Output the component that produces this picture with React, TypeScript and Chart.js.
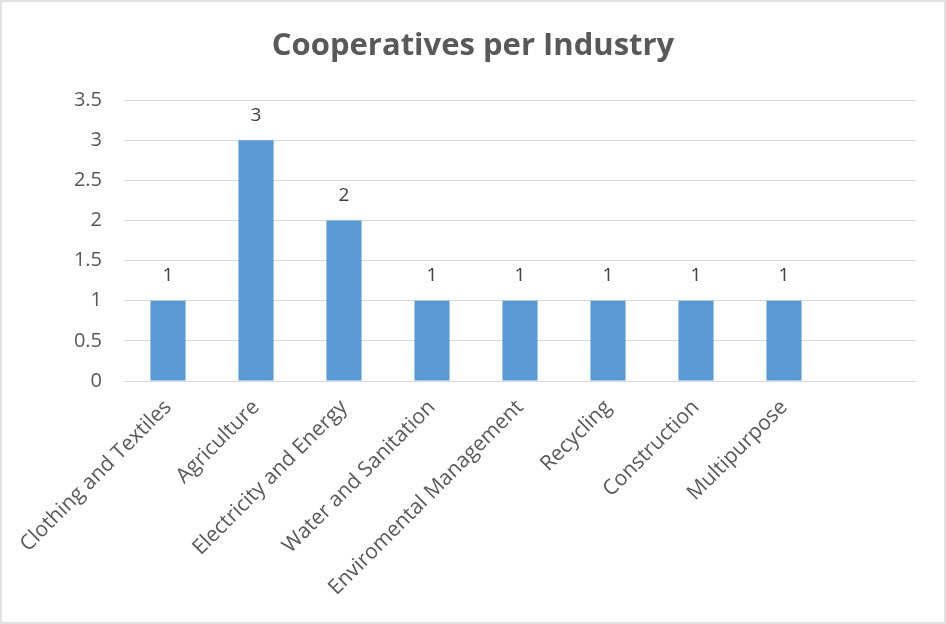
import React, { useEffect, useRef } from "react";
import { Chart, registerables } from "chart.js";

Chart.register(...registerables);

const categories: string[] = [
  "Clothing and Textiles",
  "Agriculture",
  "Electricity and Energy",
  "Water and Sanitation",
  "Enviromental Management",
  "Recycling",
  "Construction",
  "Multipurpose",
  "",
];
const cooperatives: (number | null)[] = [1, 3, 2, 1, 1, 1, 1, 1, null];
const chartTitle = "Cooperatives per Industry";

const FONT = "'Open Sans', Lato, sans-serif";
const W = 946;
const H = 624;

const frame = {
  id: "frame",
  beforeDraw(chart: any) {
    const ctx = chart.ctx;
    ctx.save();
    ctx.fillStyle = "#ffffff";
    ctx.fillRect(0, 0, W, H);
    ctx.strokeStyle = "#d9d9d9";
    ctx.lineWidth = 1.5;
    ctx.strokeRect(1, 1, W - 2, H - 2);
    ctx.restore();
  },
};

const valueLabels = {
  id: "valueLabels",
  afterDatasetsDraw(chart: any) {
    const ctx = chart.ctx;
    const meta = chart.getDatasetMeta(0);
    const data = chart.data.datasets[0].data;
    ctx.save();
    ctx.font = `19px ${FONT}`;
    ctx.fillStyle = "#404040";
    ctx.textAlign = "center";
    ctx.textBaseline = "middle";
    meta.data.forEach((bar: any, i: number) => {
      const v = data[i];
      if (v === null || v === undefined) return;
      ctx.fillText(String(v), bar.x, bar.y - 25);
    });
    ctx.restore();
  },
};

export default function App() {
  const ref = useRef<HTMLCanvasElement>(null);
  useEffect(() => {
    document.body.style.margin = "0";
    const chart = new Chart(ref.current as HTMLCanvasElement, {
      type: "bar",
      data: {
        labels: categories,
        datasets: [
          {
            data: cooperatives,
            backgroundColor: "#5b9bd5",
            borderWidth: 0,
            categoryPercentage: 1,
            barPercentage: 0.4,
          },
        ],
      },
      options: {
        animation: false,
        responsive: false,
        devicePixelRatio: 1,
        layout: { padding: 0 },
        plugins: {
          legend: { display: false },
          tooltip: { enabled: false },
          title: {
            display: true,
            text: chartTitle,
            color: "#595959",
            font: { family: FONT, size: 31, weight: "bold", lineHeight: 1.2 },
            padding: { top: 28, bottom: 35 },
          },
        },
        scales: {
          x: {
            grid: { display: false, drawTicks: false },
            border: { display: true, color: "#d9d9d9", width: 1 },
            ticks: {
              color: "#595959",
              font: { family: FONT, size: 21 },
              minRotation: 45,
              maxRotation: 45,
              autoSkip: false,
              padding: 14,
            },
            afterFit(scale: any) {
              scale.height = H - 381;
            },
          },
          y: {
            min: 0,
            max: 3.5,
            grid: { color: "#d9d9d9", drawTicks: false },
            border: { display: false },
            ticks: {
              stepSize: 0.5,
              color: "#595959",
              font: { family: FONT, size: 20 },
              padding: 22,
              callback: (v: any) => String(v),
            },
            afterFit(scale: any) {
              scale.width = 124;
            },
          },
          yRight: {
            position: "right",
            display: true,
            grid: { display: false, drawTicks: false },
            border: { display: false },
            ticks: { display: false },
            afterFit(scale: any) {
              scale.width = 30;
            },
          },
        },
      },
      plugins: [frame, valueLabels],
    });
    return () => chart.destroy();
  }, []);
  return (
    <div style={{ position: "absolute", left: 0, top: 0, width: W, height: H }}>
      <canvas ref={ref} width={W} height={H} style={{ width: W, height: H }} />
    </div>
  );
}
